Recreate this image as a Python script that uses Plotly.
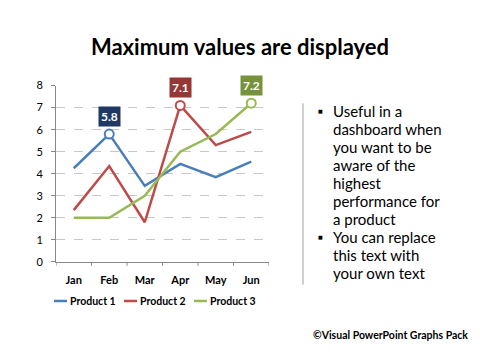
import plotly.graph_objects as go

months = ["Jan", "Feb", "Mar", "Apr", "May", "Jun"]
product1 = [4.25, 5.8, 3.45, 4.45, 3.85, 4.55]
product2 = [2.35, 4.35, 1.8, 7.1, 5.3, 5.9]
product3 = [2.0, 2.0, 3.0, 5.0, 5.8, 7.2]
names = ["Product 1", "Product 2", "Product 3"]
line_colors = ["#4a7ebb", "#be4b48", "#98b954"]
label_colors = ["#1f3864", "#953735", "#76923c"]
y_ticks = [0, 1, 2, 3, 4, 5, 6, 7, 8]

bullets = [
    ["Useful in a", "dashboard when", "you want to be", "aware of the", "highest", "performance for", "a product"],
    ["You can replace", "this text with", "your own text"],
]

FONT = "Lato, 'Noto Sans', sans-serif"
Y0, Y1 = 264.5, 81.5
fig = go.Figure()
series = [product1, product2, product3]
for name, vals, col, lcol in zip(names, series, line_colors, label_colors):
    fig.add_trace(go.Scatter(x=months, y=vals, mode="lines", name=name, showlegend=False,
                             line=dict(color=col, width=2.5)))
    i = max(range(len(vals)), key=lambda k: vals[k])
    fig.add_trace(go.Scatter(x=[months[i]], y=[vals[i]], mode="markers", showlegend=False,
                             marker=dict(size=9, color="white", line=dict(color=col, width=2))))
    fig.add_annotation(x=months[i], y=vals[i], text="<b>%.1f</b>" % vals[i], showarrow=True,
                       arrowcolor="rgba(0,0,0,0)", ax=0, ay=-7, yanchor="bottom",
                       bgcolor=lcol, font=dict(color="white", size=12, family=FONT),
                       borderpad=2, xref="x", yref="y")

fig.update_layout(
    width=480, height=360, margin=dict(l=0, r=0, t=0, b=0),
    paper_bgcolor="white", plot_bgcolor="white",
    title=dict(text="<b>Maximum values are displayed</b>", x=0.5, xanchor="center",
               y=1 - 47 / 360, yanchor="middle", font=dict(size=22, family=FONT, color="black")),
    xaxis=dict(domain=[56 / 480, 269 / 480], range=[-0.5, 5.5], showline=True, linecolor="#888888",
               linewidth=1, ticks="", showgrid=False, tickfont=dict(size=11, family=FONT, color="black"),
               tickprefix="<b>", ticksuffix="</b>", ticklabelstandoff=8, fixedrange=True),
    yaxis=dict(domain=[1 - Y0 / 360, 1 - Y1 / 360], range=[0, 8], tickvals=y_ticks, showline=True,
               linecolor="#888888", linewidth=1, showgrid=True, gridcolor="#c8c8c8", griddash="dash",
               gridwidth=1, zeroline=False, tickfont=dict(size=11, family=FONT, color="black"),
               tickprefix="<b>", ticksuffix="</b>", ticks="outside", ticklen=4, tickcolor="#888888",
               ticklabelstandoff=6, fixedrange=True),
    showlegend=False,
)

# x tick marks at category boundaries
for b in range(7):
    fig.add_shape(type="line", xref="x", yref="paper", x0=b - 0.5, x1=b - 0.5,
                  y0=1 - Y0 / 360, y1=1 - (Y0 + 4) / 360, line=dict(color="#888888", width=1))

# manual legend
leg_x = [54, 124, 194]
for name, col, lx in zip(names, line_colors, leg_x):
    fig.add_shape(type="line", xref="paper", yref="paper", x0=lx / 480, x1=(lx + 13) / 480,
                  y0=1 - 305 / 360, y1=1 - 305 / 360, line=dict(color=col, width=2.5))
    fig.add_annotation(xref="paper", yref="paper", x=(lx + 14) / 480, y=1 - 305 / 360,
                       text="<b>%s</b>" % name, showarrow=False, xanchor="left", yanchor="middle",
                       font=dict(size=10.5, family=FONT, color="black"))

# separator line
fig.add_shape(type="line", xref="paper", yref="paper", x0=303 / 480, x1=303 / 480,
              y0=1 - 100 / 360, y1=1 - 288 / 360, line=dict(color="#a0a0a0", width=1))

# bullet text
y = 108
for group in bullets:
    for j, line in enumerate(group):
        if j == 0:
            fig.add_annotation(xref="paper", yref="paper", x=320 / 480, y=1 - y / 360, text="■",
                               showarrow=False, xanchor="center", yanchor="middle",
                               font=dict(size=5, family="DejaVu Sans", color="black"))
        fig.add_annotation(xref="paper", yref="paper", x=331 / 480, y=1 - y / 360, text=line,
                           showarrow=False, xanchor="left", yanchor="middle",
                           font=dict(size=15, family=FONT, color="black"))
        y += 18.7

fig.add_annotation(xref="paper", yref="paper", x=470 / 480, y=1 - 340 / 360,
                   text="<b>©Visual PowerPoint Graphs Pack</b>", showarrow=False,
                   xanchor="right", yanchor="middle", font=dict(size=10.5, family=FONT, color="black"))

fig.write_html("out.html", config={"displayModeBar": False},
               post_script="document.body.style.margin='0';document.body.style.overflow='hidden';")
